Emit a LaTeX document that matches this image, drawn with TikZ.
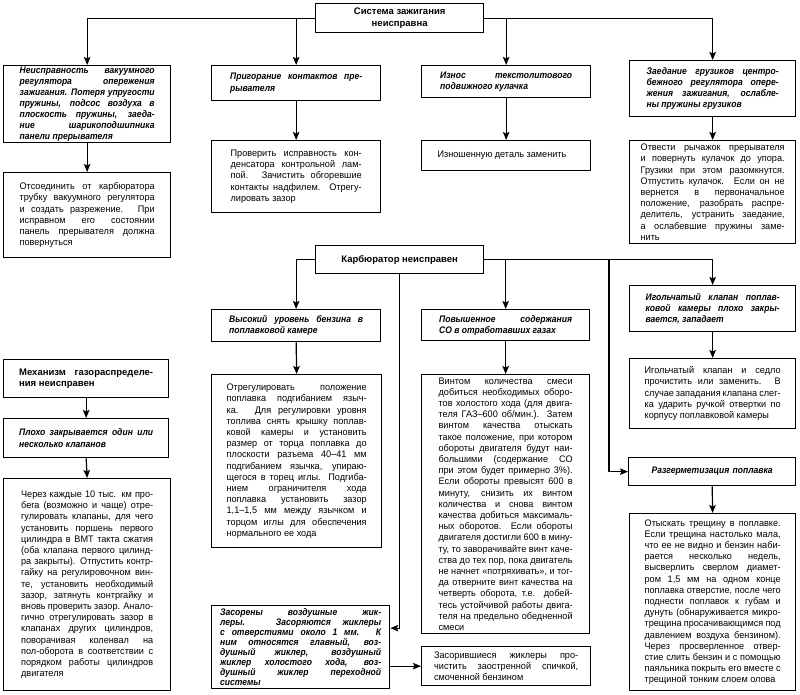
\documentclass[tikz,border=0pt]{standalone}
\usepackage{fontspec}
\setmainfont{Liberation Sans}[
  UprightFeatures={FakeStretch=0.96}, BoldFeatures={FakeStretch=1.0},
  BoldItalicFeatures={FakeStretch=0.9}]
\usetikzlibrary{arrows.meta}
\tolerance=10000
\hyphenpenalty=10000
\exhyphenpenalty=10000

\tikzset{
  blk/.style={draw, line width=1.3pt, anchor=north west, inner xsep=0pt, inner ysep=0pt,
    align=justify, font=\fontsize{9.5}{11.2}\selectfont},
  hd/.style={blk, align=center, font=\fontsize{9.5}{11.2}\selectfont\bfseries},
  prob/.style={blk, font=\fontsize{9.5}{11.2}\selectfont\bfseries\itshape},
  fix/.style={blk},
  arr/.style={-{Stealth[length=8pt,width=6.5pt,inset=1.5pt]}, line width=1.2pt},
}

\begin{document}
\begin{tikzpicture}[x=1pt, y=-1pt]
  \useasboundingbox (0,0) rectangle (800,695);

  % ignition system
  \node[hd, minimum width=168pt, minimum height=29pt] (sys) at (315,3)
    {Система зажигания\\неисправна};

  \node[prob, font=\fontsize{9.5}{10.9}\selectfont\bfseries\itshape, minimum width=167pt, minimum height=77pt, text width=135pt] (vac) at (3,65)
    {Неисправность вакуумного\linebreak
     регулятора опережения\linebreak
     зажигания. Потеря упругости\linebreak
     пружины, подсос воздуха в\linebreak
     плоскость пружины, заеда-\linebreak
     ние шарикоподшипника\linebreak
     панели прерывателя};
  \node[prob, minimum width=169pt, minimum height=35pt, text width=132pt] (prig) at (211,65)
    {Пригорание контактов пре-\linebreak
     рывателя};
  \node[prob, minimum width=169pt, minimum height=32pt, text width=132pt] (izn) at (421,65)
    {Износ текстолитового\linebreak
     подвижного кулачка};
  \node[prob, minimum width=166pt, minimum height=56pt, text width=132pt] (zaed) at (629,60)
    {Заедание грузиков центро-\linebreak
     бежного регулятора опере-\linebreak
     жения зажигания, ослабле-\linebreak
     ны пружины грузиков};

  \node[fix, minimum width=167pt, minimum height=85pt, text width=135pt] (vacfix) at (3,172)
    {Отсоединить от карбюратора\linebreak
     трубку вакуумного регулятора\linebreak
     и создать разрежение. При\linebreak
     исправном его состоянии\linebreak
     панель прерывателя должна\linebreak
     повернуться};
  \node[fix, minimum width=169pt, minimum height=72pt, text width=131pt] (prigfix) at (211,140)
    {Проверить исправность кон-\linebreak
     денсатора контрольной лам-\linebreak
     пой. Зачистить обгоревшие\linebreak
     контакты надфилем. Отрегу-\linebreak
     лировать зазор};
  \node[fix, minimum width=169pt, minimum height=30pt, text width=137pt] (iznfix) at (421,140)
    {Изношенную деталь заменить};
  \node[fix, minimum width=166pt, minimum height=103pt, text width=144pt] (zaedfix) at (629,140)
    {Отвести рычажок прерывателя\linebreak
     и повернуть кулачок до упора.\linebreak
     Грузики при этом разомкнутся.\linebreak
     Отпустить кулачок. Если он не\linebreak
     вернется в первоначальное\linebreak
     положение, разобрать распре-\linebreak
     делитель, устранить заедание,\linebreak
     а ослабевшие пружины заме-\linebreak
     нить};

  \draw[arr] (sys.west) -| (vac.north);
  \draw[arr] (sys.west -| prig.north) -- (prig.north);
  \draw[arr] (sys.east) -| (zaed.north);
  \draw[arr] (sys.east -| izn.north) -- (izn.north);
  \draw[arr] (vac.south) -- (vacfix.north);
  \draw[arr] (prig.south) -- (prigfix.north);
  \draw[arr] (izn.south) -- (iznfix.north);
  \draw[arr] (zaed.south) -- (zaedfix.north);

  % carburettor
  \node[hd, minimum width=168pt, minimum height=28pt] (karb) at (315,245)
    {Карбюратор неисправен};

  \node[prob, minimum width=169pt, minimum height=32pt, text width=134pt] (high) at (211,309)
    {Высокий уровень бензина в\linebreak
     поплавковой камере};
  \node[prob, minimum width=168pt, minimum height=31pt, text width=133pt] (pov) at (421,309)
    {Повышенное содержания\linebreak
     СО в отработавших газах};
  \node[prob, minimum width=166pt, minimum height=46pt, text width=134pt] (igol) at (629,285)
    {Игольчатый клапан поплав-\linebreak
     ковой камеры плохо закры-\linebreak
     вается, западает};

  \node[fix, minimum width=170pt, minimum height=173pt, text width=140pt] (highfix) at (211,374)
    {Отрегулировать положение\linebreak
     поплавка подгибанием языч-\linebreak
     ка. Для регулировки уровня\linebreak
     топлива снять крышку поплав-\linebreak
     ковой камеры и установить\linebreak
     размер от торца поплавка до\linebreak
     плоскости разъема 40–41 мм\linebreak
     подгибанием язычка, упираю-\linebreak
     щегося в торец иглы. Подгиба-\linebreak
     нием ограничителя хода\linebreak
     поплавка установить зазор\linebreak
     1,1–1,5 мм между язычком и\linebreak
     торцом иглы для обеспечения\linebreak
     нормального ее хода};
  \node[fix, minimum width=168pt, minimum height=259pt, text width=134pt] (povfix) at (421,374)
    {Винтом количества смеси\linebreak
     добиться необходимых оборо-\linebreak
     тов холостого хода (для двига-\linebreak
     теля ГАЗ–600 об/мин.). Затем\linebreak
     винтом качества отыскать\linebreak
     такое положение, при котором\linebreak
     обороты двигателя будут наи-\linebreak
     большими (содержание СО\linebreak
     при этом будет примерно 3\%).\linebreak
     Если обороты превысят 600 в\linebreak
     минуту, снизить их винтом\linebreak
     количества и снова винтом\linebreak
     качества добиться максималь-\linebreak
     ных оборотов. Если обороты\linebreak
     двигателя достигли 600 в мину-\linebreak
     ту, то заворачивайте винт каче-\linebreak
     ства до тех пор, пока двигатель\linebreak
     не начнет «потряхивать», и тог-\linebreak
     да отверните винт качества на\linebreak
     четверть оборота, т.е. добей-\linebreak
     тесь устойчивой работы двига-\linebreak
     теля на предельно обедненной\linebreak
     смеси};
  \node[fix, minimum width=166pt, minimum height=70pt, text width=136pt] (igolfix) at (629,358)
    {Игольчатый клапан и седло\linebreak
     прочистить или заменить. В\linebreak
     случае западания клапана слег-\linebreak
     ка ударить ручкой отвертки по\linebreak
     корпусу поплавковой камеры};

  \node[prob, align=center, minimum width=167pt, minimum height=28pt, text width=140pt] (razg) at (628,457)
    {Разгерметизация поплавка};
  \node[fix, minimum width=166pt, minimum height=177pt, text width=136pt] (razgfix) at (629,513)
    {Отыскать трещину в поплавке.\linebreak
     Если трещина настолько мала,\linebreak
     что ее не видно и бензин наби-\linebreak
     рается несколько недель,\linebreak
     высверлить сверлом диамет-\linebreak
     ром 1,5 мм на одном конце\linebreak
     поплавка отверстие, после чего\linebreak
     поднести поплавок к губам и\linebreak
     дунуть (обнаруживается микро-\linebreak
     трещина просачивающимся под\linebreak
     давлением воздуха бензином).\linebreak
     Через просверленное отвер-\linebreak
     стие слить бензин и с помощью\linebreak
     паяльника покрыть его вместе с\linebreak
     трещиной тонким слоем олова};

  \node[prob, font=\fontsize{9.5}{10.1}\selectfont\bfseries\itshape, minimum width=178pt, minimum height=83pt, text width=161pt] (zas) at (211,605)
    {Засорены воздушные жик-\linebreak
     леры. Засоряются жиклеры\linebreak
     с отверстиями около 1 мм. К\linebreak
     ним относятся главный, воз-\linebreak
     душный жиклер, воздушный\linebreak
     жиклер холостого хода, воз-\linebreak
     душный жиклер переходной\linebreak
     системы};
  \node[fix, minimum width=169pt, minimum height=39pt, text width=144pt] (zasfix) at (421,646)
    {Засорившиеся жиклеры про-\linebreak
     чистить заостренной спичкой,\linebreak
     смоченной бензином};

  \coordinate (jx) at (609,0);
  \draw[arr] (karb.west) -| (high.north);
  \draw[arr] (karb.east) -| (igol.north);
  \draw[arr] (karb.east -| pov.north) -- (pov.north);
  \draw[arr] (karb.east -| jx) |- (razg.west);
  \draw[arr] (karb.south) |- ([yshift=19pt]zas.east);
  \draw[arr] (zas.east |- zasfix.west) -- (zasfix.west);
  \draw[arr] (high.south) -- (highfix.north);
  \draw[arr] (pov.south) -- (povfix.north);
  \draw[arr] (igol.south) -- (igolfix.north);
  \draw[arr] (razg.south) -- (razgfix.north);

  % valve gear
  \node[blk, font=\fontsize{9.5}{11.2}\selectfont\bfseries, minimum width=165pt, minimum height=38pt, text width=134pt] (mech) at (3,359)
    {Механизм газораспределе-\linebreak
     ния неисправен};
  \node[prob, minimum width=165pt, minimum height=39pt, text width=134pt] (plokh) at (3,418)
    {Плохо закрывается один или\linebreak
     несколько клапанов};
  \node[fix, minimum width=167pt, minimum height=212pt, text width=132pt] (plokhfix) at (3,478)
    {Через каждые 10 тыс. км про-\linebreak
     бега (возможно и чаще) отре-\linebreak
     гулировать клапаны, для чего\linebreak
     установить поршень первого\linebreak
     цилиндра в ВМТ такта сжатия\linebreak
     (оба клапана первого цилинд-\linebreak
     ра закрыты). Отпустить контр-\linebreak
     гайку на регулировочном вин-\linebreak
     те, установить необходимый\linebreak
     зазор, затянуть контргайку и\linebreak
     вновь проверить зазор. Анало-\linebreak
     гично отрегулировать зазор в\linebreak
     клапанах других цилиндров,\linebreak
     поворачивая коленвал на\linebreak
     пол-оборота в соответствии с\linebreak
     порядком работы цилиндров\linebreak
     двигателя};

  \draw[arr] (mech.south) -- (plokh.north);
  \draw[arr] (plokh.south) -- (plokhfix.north);
\end{tikzpicture}
\end{document}
